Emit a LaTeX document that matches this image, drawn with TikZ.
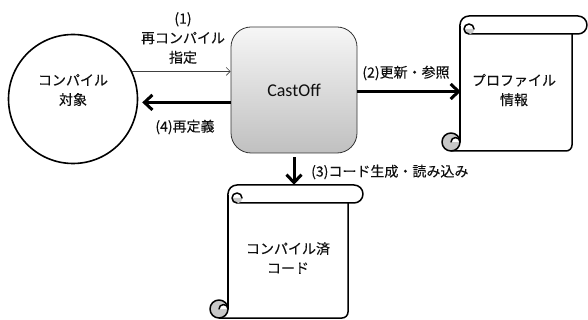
\documentclass[tikz,border=0pt]{standalone}
\usepackage{fontspec}
\setmainfont[FakeBold=0.15]{Noto Sans CJK JP}
\newfontfamily\latinfont{Carlito}
\usetikzlibrary{arrows.meta,calc}
\definecolor{curlgray}{RGB}{200,200,200}
\definecolor{boxtop}{RGB}{246,246,246}
\definecolor{boxbot}{RGB}{192,192,192}
\definecolor{txt}{RGB}{15,15,15}
\tikzset{
  scrl/.style={line width=1.5pt, line join=round, line cap=round},
  jptext/.style={font=\fontsize{14}{19.5}\selectfont, text=txt, align=center, inner sep=0pt},
  thinarrow/.style={draw=black!75, line width=0.6pt, -{Straight Barb[length=4pt,width=8pt]}},
  thickarrow/.style={draw=black, line width=3pt, -{Straight Barb[length=8pt,width=15pt]}},
}
% #1 body left, #2 body right, #3 roll right, #4 top, #5 bottom
\newcommand\drawscroll[5]{%
  \fill[white] ({#1},{-#4-9}) -- ({#1},{-#5}) -- ({#2},{-#5}) -- ({#2},{-#4-18}) -- cycle;
  \draw[scrl] ({#1},{-#4-9}) -- ({#1},{-#5+9});
  \draw[scrl] ({#1-9},{-#5}) -- ({#2-6},{-#5}) arc[start angle=270,end angle=360,radius=6] -- ({#2},{-#4-18});
  \filldraw[scrl, fill=white] ({#1},{-#4-9}) arc[start angle=180,end angle=90,radius=9]
     -- ({#3-9},{-#4}) arc[start angle=90,end angle=-90,radius=9] -- ({#1+9},{-#4-18});
  \fill[curlgray] ({#1+3.5},{-#4-13}) arc[start angle=180,end angle=360,radius=5.5] -- cycle;
  \draw[scrl] ({#1+9},{-#4-18}) arc[start angle=270,end angle=0,radius=5];
  \filldraw[scrl, fill=curlgray] ({#1-9},{-#5+9}) circle[radius=9];
  \filldraw[scrl, fill=white] ({#1-9},{-#5+9}) arc[start angle=180,end angle=0,radius=4.5];
}
\begin{document}
\begin{tikzpicture}[x=1pt,y=1pt]
\useasboundingbox (0,0) rectangle (588,-320);
% circle
\node[circle, draw, line width=1.6pt, minimum size=129pt, inner sep=0pt] (circ) at (73,-99) {};
\node[jptext] (circtext) at (73,-90) {コンパイル\\対象};
% CastOff box
\node[draw=black!80, line width=0.8pt, rounded corners=20pt, minimum width=126pt, minimum height=126pt,
      top color=boxtop, bottom color=boxbot, inner sep=0pt] (box) at (294,-90) {};
\node[font=\latinfont\fontsize{18}{21}\selectfont, text=txt] (castoff) at (294,-90) {CastOff};
% scrolls
\drawscroll{460}{572}{587}{16}{151}
\node[minimum width=112pt, minimum height=117pt, inner sep=0pt] (prof) at (516,-92.5) {};
\node[jptext] (proftext) at (514,-90) {プロファイル\\情報};
\drawscroll{228}{348}{363}{185}{318}
\node[minimum width=135pt, minimum height=133pt, inner sep=0pt] (code) at (287,-251.5) {};
\node[jptext] (codetext) at (288,-258) {コンパイル済\\コード};
% arrows
\draw[thinarrow] (circ.25) -- (box.west |- circ.25);
\draw[thickarrow, shorten >=4pt] (box.west |- circ.-3) -- (circ.-3);
\draw[thickarrow] ($(box.east)+(0,-1.5)$) -- ($(prof.west |- box.east)+(1,-1.5)$);
\draw[thickarrow, shorten <=4pt] (box.south) -- (box.south |- code.north);
% labels
\node[jptext] (l1) at (183,-38) {(1)\\再コンパイル\\指定};
\node[jptext] (l4) at (185,-127) {(4)再定義};
\node[jptext] (l2) at (406,-73) {(2)更新・参照};
\node[jptext, anchor=west] (l3) at (311,-172) {(3)コード生成・読み込み};
\end{tikzpicture}
\end{document}
